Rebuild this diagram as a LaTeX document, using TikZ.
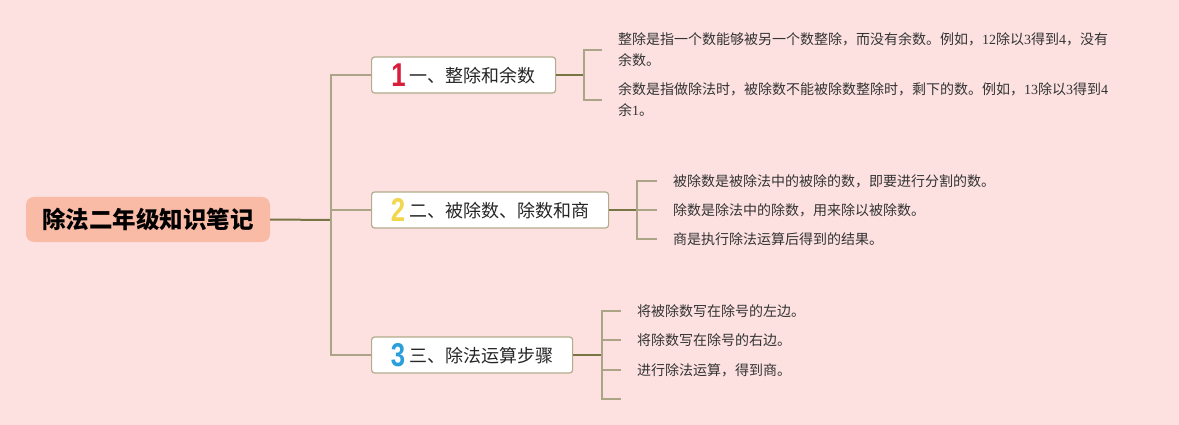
\documentclass[tikz,border=0pt]{standalone}
\usepackage{fontspec}
\setmainfont{Noto Sans CJK SC}
\newfontfamily\lat{Liberation Serif}
\newfontfamily\digf{Liberation Sans}
\definecolor{bgc}{HTML}{FDE1E1}
\definecolor{rootfill}{HTML}{F9BAA6}
\definecolor{darkline}{HTML}{787544}
\definecolor{tanline}{HTML}{ACA486}
\definecolor{nodeborder}{HTML}{B3AB8C}
\definecolor{numred}{HTML}{D81E3A}
\definecolor{numyellow}{HTML}{F2D64B}
\definecolor{numblue}{HTML}{2B9FDC}
\newcommand{\bignum}[2]{\textcolor{#1}{\raisebox{-4pt}{\scalebox{0.78}[1]{\digf\bfseries\fontsize{33}{33}\selectfont #2}}}}
\tikzset{
  rootbox/.style={fill=rootfill, rounded corners=8pt, minimum width=244pt, minimum height=45pt, inner sep=0pt,
    font=\bfseries\fontsize{23.5}{28}\selectfont, text=black},
  topicbox/.style={draw=nodeborder, line width=1.2pt, fill=white, rounded corners=3pt, minimum height=36pt,
    inner xsep=0pt, inner ysep=0pt, anchor=west, font=\fontsize{18}{22}\selectfont, text=black!85},
  leafbox/.style={anchor=west, inner xsep=16pt, inner ysep=0pt, align=left,
    font=\fontsize{14}{21}\selectfont, text=black!80},
  rootlink/.style={draw=darkline, line width=2pt},
  branchlink/.style={draw=tanline, line width=1.6pt},
  stemlink/.style={draw=darkline, line width=2pt},
  bracketlink/.style={draw=tanline, line width=1.5pt},
}
\begin{document}
\begin{tikzpicture}[x=1pt,y=-1pt]
\path[fill=bgc] (0,0) rectangle (1179,425);
\node[rootbox] (root) at (148,219.5) {除法二年级知识笔记};
\coordinate (tj) at (331,220);
\node[topicbox, minimum width=184pt] (n1) at (371,75) {\bignum{numred}{1} 一、整除和余数};
\node[topicbox, minimum width=237pt] (n2) at (371,210) {\bignum{numyellow}{2} 二、被除数、除数和商};
\node[topicbox, minimum width=201pt] (n3) at (371,355) {\bignum{numblue}{3} 三、除法运算步骤};
\draw[rootlink] (root.east) -- (tj);
\draw[branchlink] (tj) |- (n1.west);
\draw[branchlink] (tj) |- (n2.west);
\draw[branchlink] (tj) |- (n3.west);
% topic 1
\coordinate (b1) at (584,75);
\node[leafbox] (l11) at (602,50) {整除是指一个数能够被另一个数整除，而没有余数。例如，{\lat 12}除以{\lat 3}得到{\lat 4}，没有\\余数。};
\node[leafbox] (l12) at (602,100) {余数是指做除法时，被除数不能被除数整除时，剩下的数。例如，{\lat 13}除以{\lat 3}得到{\lat 4}\\余{\lat 1}。};
\draw[stemlink] (n1.east) -- (b1);
\draw[bracketlink] (b1) |- (l11.west);
\draw[bracketlink] (b1) |- (l12.west);
% topic 2
\coordinate (b2) at (637,210);
\node[leafbox] (l21) at (657,181) {被除数是被除法中的被除的数，即要进行分割的数。};
\node[leafbox] (l22) at (657,210) {除数是除法中的除数，用来除以被除数。};
\node[leafbox] (l23) at (657,239) {商是执行除法运算后得到的结果。};
\draw[stemlink] (n2.east) -- (b2);
\draw[bracketlink] (b2) |- (l21.west);
\draw[bracketlink] (b2) -- (l22.west);
\draw[bracketlink] (b2) |- (l23.west);
% topic 3
\coordinate (b3) at (602,355);
\node[leafbox] (l31) at (621,311) {将被除数写在除号的左边。};
\node[leafbox] (l32) at (621,340) {将除数写在除号的右边。};
\node[leafbox] (l33) at (621,370) {进行除法运算，得到商。};
\coordinate (l34) at (621,399);
\draw[stemlink] (n3.east) -- (b3);
\draw[bracketlink] (b3) |- (l31.west);
\draw[bracketlink] (b3) |- (l32.west);
\draw[bracketlink] (b3) |- (l33.west);
\draw[bracketlink] (b3) |- (l34);
\end{tikzpicture}
\end{document}
